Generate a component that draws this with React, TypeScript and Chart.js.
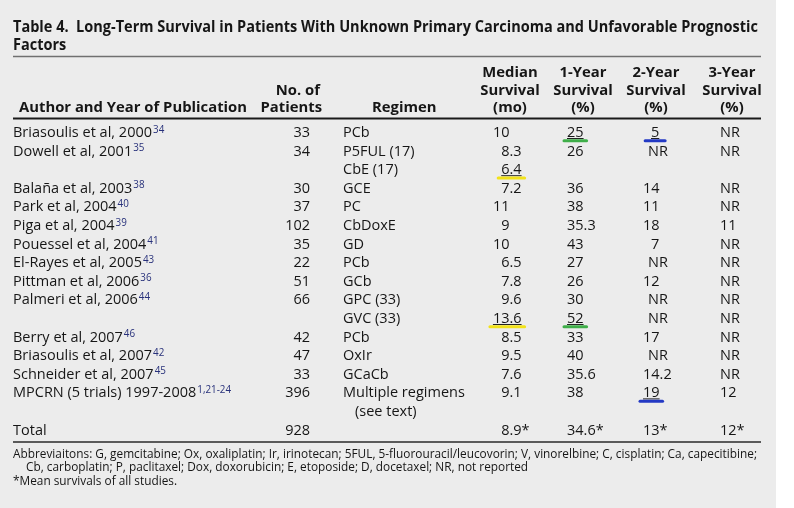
import React, { useEffect, useRef } from "react";
import { Chart, registerables } from "chart.js";

Chart.register(...registerables);

// ---------- data ----------
const titleLine1 = "Table 4.  Long-Term Survival in Patients With Unknown Primary Carcinoma and Unfavorable Prognostic";
const titleLine2 = "Factors";

const headAuthor = "Author and Year of Publication";
const headPatients = ["No. of", "Patients"];
const headRegimen = "Regimen";
const headMedian = ["Median", "Survival", "(mo)"];
const headOneYear = ["1-Year", "Survival", "(%)"];
const headTwoYear = ["2-Year", "Survival", "(%)"];
const headThreeYear = ["3-Year", "Survival", "(%)"];

const authors = [
  "Briasoulis et al, 2000",
  "Dowell et al, 2001",
  "Balaña et al, 2003",
  "Park et al, 2004",
  "Piga et al, 2004",
  "Pouessel et al, 2004",
  "El-Rayes et al, 2005",
  "Pittman et al, 2006",
  "Palmeri et al, 2006",
  "Berry et al, 2007",
  "Briasoulis et al, 2007",
  "Schneider et al, 2007",
  "MPCRN (5 trials) 1997-2008",
];
const refs = ["34", "35", "38", "40", "39", "41", "43", "36", "44", "46", "42", "45", "1,21-24"];
const authorLines = [0, 1, 3, 4, 5, 6, 7, 8, 9, 11, 12, 13, 14];
const patients = [33, 34, 30, 37, 102, 35, 22, 51, 66, 42, 47, 33, 396];

const regimens = [
  "PCb", "P5FUL (17)", "CbE (17)", "GCE", "PC", "CbDoxE", "GD", "PCb", "GCb",
  "GPC (33)", "GVC (33)", "PCb", "OxIr", "GCaCb", "Multiple regimens", "(see text)",
];
const medianSurvival = ["10", "8.3", "6.4", "7.2", "11", "9", "10", "6.5", "7.8", "9.6", "13.6", "8.5", "9.5", "7.6", "9.1", ""];
const oneYearSurvival = ["25", "26", "", "36", "38", "35.3", "43", "27", "26", "30", "52", "33", "40", "35.6", "38", ""];
const twoYearSurvival = ["5", "NR", "", "14", "11", "18", "7", "NR", "12", "NR", "NR", "17", "NR", "14.2", "19", ""];
const threeYearSurvival = ["NR", "NR", "", "NR", "NR", "11", "NR", "NR", "NR", "NR", "NR", "NR", "NR", "NR", "12", ""];

const totalLabel = "Total";
const totalPatients = 928;
const totalMedian = "8.9*";
const totalOneYear = "34.6*";
const totalTwoYear = "13*";
const totalThreeYear = "12*";
const totalLine = 16;

// highlight marks: line, column (0 median, 1 one-year, 2 two-year), colour
const highlightLines = [0, 0, 2, 10, 10, 14];
const highlightCols = [1, 2, 0, 0, 1, 2];
const highlightColors = ["#3fae49", "#2339c4", "#f2e21a", "#f2e21a", "#3fae49", "#2339c4"];

const footnotes = [
  "Abbreviaitons: G, gemcitabine; Ox, oxaliplatin; Ir, irinotecan; 5FUL, 5-fluorouracil/leucovorin; V, vinorelbine; C, cisplatin; Ca, capecitibine;",
  "Cb, carboplatin; P, paclitaxel; Dox, doxorubicin; E, etoposide; D, docetaxel; NR, not reported",
  "*Mean survivals of all studies.",
];

// ---------- layout (style only) ----------
const W = 794;
const H = 508;
const FAMILY = '"Open Sans", "Noto Sans", sans-serif';
const ROW0 = 137; // baseline of first row in px
const ROWH = 18.6;

type Style = { font: string; sx: number };

function makeStyle(ctx: CanvasRenderingContext2D, weight: string, size: number, sample: string, target: number): Style {
  const font = `${weight} ${size}px ${FAMILY}`;
  ctx.font = font;
  const w = ctx.measureText(sample).width;
  return { font, sx: target / w };
}

const tablePlugin = {
  id: "tablePlugin",
  beforeDraw(chart: any) {
    const ctx: CanvasRenderingContext2D = chart.ctx;
    ctx.save();
    ctx.fillStyle = "#ffffff";
    ctx.fillRect(0, 0, W, H);
    ctx.fillStyle = "#ececec";
    ctx.fillRect(0, 0, 776, H);
    ctx.restore();
  },
  afterDraw(chart: any) {
    const ctx: CanvasRenderingContext2D = chart.ctx;
    const xs = chart.scales.x;
    const ys = chart.scales.y;
    const X = (v: number) => xs.getPixelForValue(v);
    const Y = (line: number) => ys.getPixelForValue(line);
    const PY = (px: number) => Y((px - ROW0) / ROWH);

    const titleSt = makeStyle(ctx, "bold", 15.5, titleLine1, 745);
    const headSt = makeStyle(ctx, "bold", 14.6, headAuthor, 228);
    const bodySt = makeStyle(ctx, "normal", 14.6, authors[0], 139);
    const footSt = makeStyle(ctx, "normal", 12.6, footnotes[0], 744);
    const supSt: Style = { font: `normal ${14.6 * 0.68}px ${FAMILY}`, sx: bodySt.sx };

    const ink = "#161616";
    ctx.save();
    ctx.textBaseline = "alphabetic";

    const text = (t: string, x: number, y: number, align: string, st: Style, color = ink) => {
      ctx.font = st.font;
      const w = ctx.measureText(t).width * st.sx;
      const left = align === "left" ? x : align === "right" ? x - w : x - w / 2;
      ctx.save();
      ctx.fillStyle = color;
      ctx.textAlign = "left";
      ctx.translate(left, y);
      ctx.scale(st.sx, 1);
      ctx.fillText(t, 0, 0);
      ctx.restore();
      return [left, w];
    };

    // title
    text(titleLine1, X(13), PY(31.5), "left", titleSt);
    text(titleLine2, X(13), PY(50), "left", titleSt);

    // rules
    const rule = (py: number, width: number, color: string) => {
      ctx.beginPath();
      ctx.strokeStyle = color;
      ctx.lineWidth = width;
      ctx.moveTo(X(13), PY(py));
      ctx.lineTo(X(761), PY(py));
      ctx.stroke();
    };
    rule(56.5, 1.6, "#707070");
    rule(118.5, 2, "#1a1a1a");
    rule(442, 1.3, "#2a2a2a");

    // headers
    text(headAuthor, X(19), PY(112), "left", headSt);
    text(headRegimen, X(372), PY(112), "left", headSt);
    text(headPatients[0], X(320), PY(95), "right", headSt);
    text(headPatients[1], X(322), PY(112), "right", headSt);
    const headBase = [77, 94.5, 112];
    const headCols: [string[], number][] = [
      [headMedian, 510],
      [headOneYear, 583],
      [headTwoYear, 656],
      [headThreeYear, 732],
    ];
    headCols.forEach(([lines, cx]) => {
      lines.forEach((t, i) => text(t, X(cx), PY(headBase[i]), "center", headSt));
    });

    // authors, refs, patients
    authors.forEach((a, i) => {
      const y = Y(authorLines[i]);
      const [l, w] = text(a, X(13), y, "left", bodySt);
      text(refs[i], l + w + 1, y - 4.5, "left", supSt, "#27307a");
      text(String(patients[i]), X(310), y, "right", bodySt);
    });

    const decX = 509.5;
    const drawMedian = (t: string, y: number) => {
      if (!t) return null;
      const parts = t.split(".");
      ctx.font = bodySt.font;
      const wi = ctx.measureText(parts[0]).width * bodySt.sx;
      return text(t, X(decX) - wi, y, "left", bodySt);
    };
    const drawOne = (t: string, y: number) => (t ? text(t, X(567), y, "left", bodySt) : null);
    const drawTwo = (t: string, y: number) => {
      if (!t) return null;
      let x = 643;
      if (t === "NR") x = 648;
      else if (t.length === 1) x = 651;
      return text(t, X(x), y, "left", bodySt);
    };
    const drawThree = (t: string, y: number) => (t ? text(t, X(720), y, "left", bodySt) : null);

    const boxes: any[][] = [];
    regimens.forEach((r, line) => {
      const y = Y(line);
      const indent = r.startsWith("(") ? 12 : 0;
      text(r, X(343 + indent), y, "left", bodySt);
      boxes[line] = [
        drawMedian(medianSurvival[line], y),
        drawOne(oneYearSurvival[line], y),
        drawTwo(twoYearSurvival[line], y),
      ];
      drawThree(threeYearSurvival[line], y);
    });

    // total row
    const ty = Y(totalLine);
    text(totalLabel, X(13), ty, "left", bodySt);
    text(String(totalPatients), X(310), ty, "right", bodySt);
    drawMedian(totalMedian, ty);
    drawOne(totalOneYear, ty);
    drawTwo(totalTwoYear, ty);
    drawThree(totalThreeYear, ty);

    // highlight underlines
    highlightLines.forEach((line, i) => {
      const b = boxes[line][highlightCols[i]];
      if (!b) return;
      const [x0, w] = b;
      const y = Y(line);
      ctx.beginPath();
      ctx.strokeStyle = "#222";
      ctx.lineWidth = 1;
      ctx.moveTo(x0, y + 1.5);
      ctx.lineTo(x0 + w, y + 1.5);
      ctx.stroke();
      const ww = Math.max(w + 6, 20);
      const cx = x0 + w / 2;
      ctx.beginPath();
      ctx.strokeStyle = highlightColors[i];
      ctx.lineWidth = 3;
      ctx.lineCap = "round";
      ctx.moveTo(cx - ww / 2, y + 3.8);
      ctx.lineTo(cx + ww / 2, y + 3.8);
      ctx.stroke();
      ctx.lineCap = "butt";
    });

    // footnotes
    text(footnotes[0], X(13), PY(458), "left", footSt);
    ctx.font = footSt.font;
    text(footnotes[1], X(26), PY(471), "left", footSt);
    text(footnotes[2], X(13), PY(485), "left", footSt);

    ctx.restore();
  },
};

export default function App() {
  const ref = useRef<HTMLCanvasElement | null>(null);
  useEffect(() => {
    if (!ref.current) return;
    const yMin = -ROW0 / ROWH;
    const yMax = yMin + H / ROWH;
    const chart = new Chart(ref.current, {
      type: "scatter",
      data: { datasets: [{ data: [], pointRadius: 0 }] },
      options: {
        animation: false,
        responsive: false,
        maintainAspectRatio: false,
        layout: { padding: 0 },
        plugins: { legend: { display: false }, tooltip: { enabled: false } },
        scales: {
          x: { type: "linear", min: 0, max: W, display: false },
          y: { type: "linear", min: yMin, max: yMax, reverse: true, display: false },
        },
      },
      plugins: [tablePlugin],
    });
    return () => chart.destroy();
  }, []);
  return (
    <div style={{ position: "absolute", left: 0, top: 0, width: W, height: H }}>
      <canvas ref={ref} width={W} height={H} style={{ width: W, height: H, display: "block" }} />
    </div>
  );
}
